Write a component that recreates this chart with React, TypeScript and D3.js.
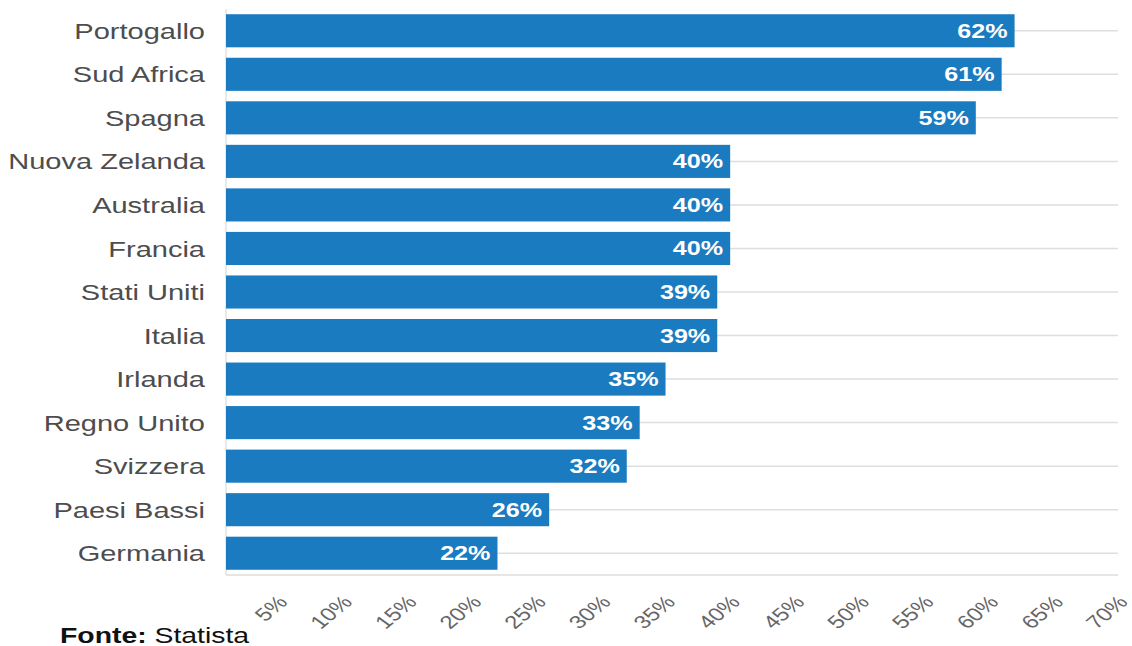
import React from "react";
import * as d3 from "d3";

const countries = [
  "Portogallo",
  "Sud Africa",
  "Spagna",
  "Nuova Zelanda",
  "Australia",
  "Francia",
  "Stati Uniti",
  "Italia",
  "Irlanda",
  "Regno Unito",
  "Svizzera",
  "Paesi Bassi",
  "Germania",
];
const shares = [62, 61, 59, 40, 40, 40, 39, 39, 35, 33, 32, 26, 22];
const tickValues = [5, 10, 15, 20, 25, 30, 35, 40, 45, 50, 55, 60, 65, 70];
const sourceLabel = "Fonte:";
const sourceName = "Statista";

const W = 1132;
const H = 646;
const SX = 1.29; // horizontal stretch of the original picture
const FONT = "'Liberation Sans', Arial, Helvetica, sans-serif";

export default function App() {
  const x = d3.scaleLinear().domain([1, 70]).range([226, 1118]);
  const y = d3
    .scaleBand<string>()
    .domain(countries)
    .range([9, 575])
    .paddingInner(0.24)
    .paddingOuter(0.12);
  const bw = y.bandwidth();

  return (
    <svg
      width={W}
      height={H}
      style={{ position: "absolute", left: 0, top: 0, background: "#fff" }}
      fontFamily={FONT}
    >
      {/* gridlines at band centres */}
      {countries.map((c) => (
        <line
          key={"g" + c}
          x1={x(1)}
          x2={x(70)}
          y1={(y(c) ?? 0) + bw / 2}
          y2={(y(c) ?? 0) + bw / 2}
          stroke="#dedede"
          strokeWidth={1.5}
        />
      ))}
      {/* axes lines */}
      <line x1={x(1)} x2={x(70)} y1={575} y2={575} stroke="#dcdcdc" strokeWidth={1.5} />
      <line x1={x(1)} x2={x(1)} y1={9} y2={575} stroke="#e2e2e2" strokeWidth={1.5} />

      {/* bars */}
      {countries.map((c, i) => (
        <rect
          key={"b" + c}
          x={x(1)}
          y={y(c)}
          width={x(shares[i]) - x(1)}
          height={bw}
          fill="#1b7bc0"
        />
      ))}

      {/* value labels */}
      {countries.map((c, i) => (
        <text
          key={"v" + c}
          transform={`translate(${x(shares[i]) - 7},${(y(c) ?? 0) + bw / 2}) scale(${SX},1)`}
          textAnchor="end"
          dy="0.36em"
          fill="#fff"
          fontWeight="bold"
          fontSize={19.5}
        >
          {shares[i]}%
        </text>
      ))}

      {/* category labels */}
      {countries.map((c) => (
        <text
          key={"c" + c}
          transform={`translate(205,${(y(c) ?? 0) + bw / 2}) scale(${SX},1)`}
          textAnchor="end"
          dy="0.36em"
          fill="#4d4d4d"
          fontSize={22.5}
        >
          {c}
        </text>
      ))}

      {/* x tick labels */}
      {tickValues.map((t) => (
        <text
          key={"t" + t}
          transform={`translate(${x(t) + 11},603) scale(${SX},1) rotate(-47)`}
          textAnchor="end"
          fill="#666"
          fontSize={18.5}
        >
          {t}%
        </text>
      ))}

      {/* source */}
      <text
        transform={`translate(60,643) scale(${SX},1)`}
        fontSize={22}
        fill="#111"
      >
        <tspan fontWeight="bold">{sourceLabel}</tspan>
        <tspan> {sourceName}</tspan>
      </text>
    </svg>
  );
}
